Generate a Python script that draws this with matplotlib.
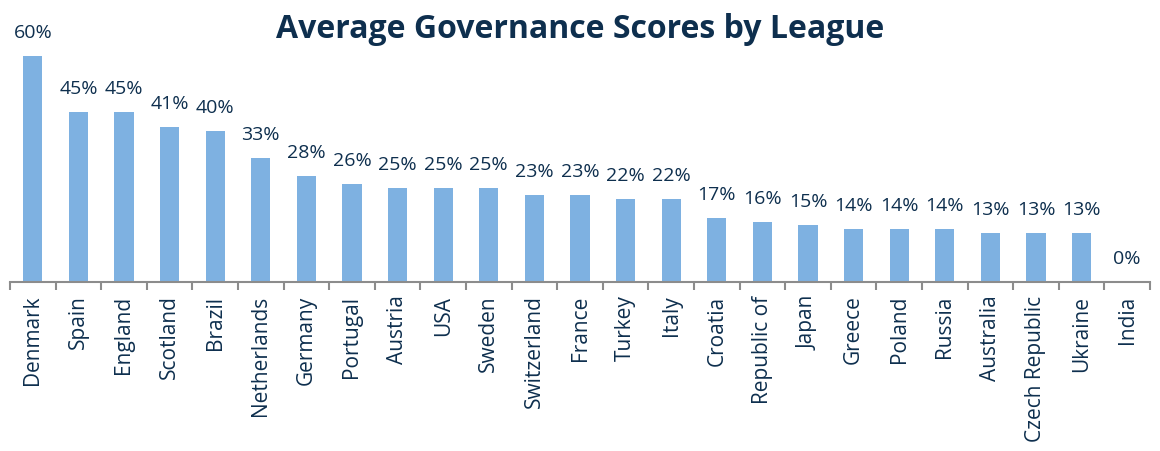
import matplotlib
matplotlib.use("Agg")
import matplotlib.pyplot as plt
import numpy as np

categories = ["Denmark", "Spain", "England", "Scotland", "Brazil", "Netherlands",
              "Germany", "Portugal", "Austria", "USA", "Sweden", "Switzerland",
              "France", "Turkey", "Italy", "Croatia", "Republic of", "Japan",
              "Greece", "Poland", "Russia", "Australia", "Czech Republic",
              "Ukraine", "India"]
scores = [60, 45, 45, 41, 40, 33, 28, 26, 25, 25, 25, 23, 23, 22, 22, 17, 16,
          15, 14, 14, 14, 13, 13, 13, 0]
title = "Average Governance Scores by League"

NAVY = "#0E2F4E"
BAR = "#7EB1E1"

plt.rcParams['font.family'] = ['Open Sans', 'DejaVu Sans']

fig = plt.figure(figsize=(11.6, 4.52), dpi=100)
ax = fig.add_axes([10/1160, 1 - 283/452, 1140/1160, 245/452])

x = np.arange(len(categories))
ax.bar(x, scores, width=0.42, color=BAR, zorder=2)
ax.set_xlim(-0.5, len(categories) - 0.5)
ax.set_ylim(0, 65)

for xi, v in zip(x, scores):
    ax.text(xi, v + 4.0, f"{v}%", ha="center", va="bottom",
            fontsize=14, color=NAVY)

for s in ["top", "right", "left"]:
    ax.spines[s].set_visible(False)
ax.spines["bottom"].set_color("#8C8C8C")
ax.spines["bottom"].set_linewidth(1.5)
ax.set_yticks([])
ax.set_xticks(np.arange(len(categories) + 1) - 0.5)
ax.set_xticklabels([])
ax.tick_params(axis="x", length=6, width=1.5, color="#8C8C8C", direction="out")
ax.set_xticks(x, minor=True)
ax.set_xticklabels(categories, minor=True, rotation=90, fontsize=15,
                   color=NAVY)
ax.tick_params(axis="x", which="minor", length=0, pad=9)

fig.text(0.5, 1 - 30/452, title, ha="center", va="center",
         fontsize=23, fontweight="bold", color=NAVY)

fig.savefig("out.png", dpi=100)
